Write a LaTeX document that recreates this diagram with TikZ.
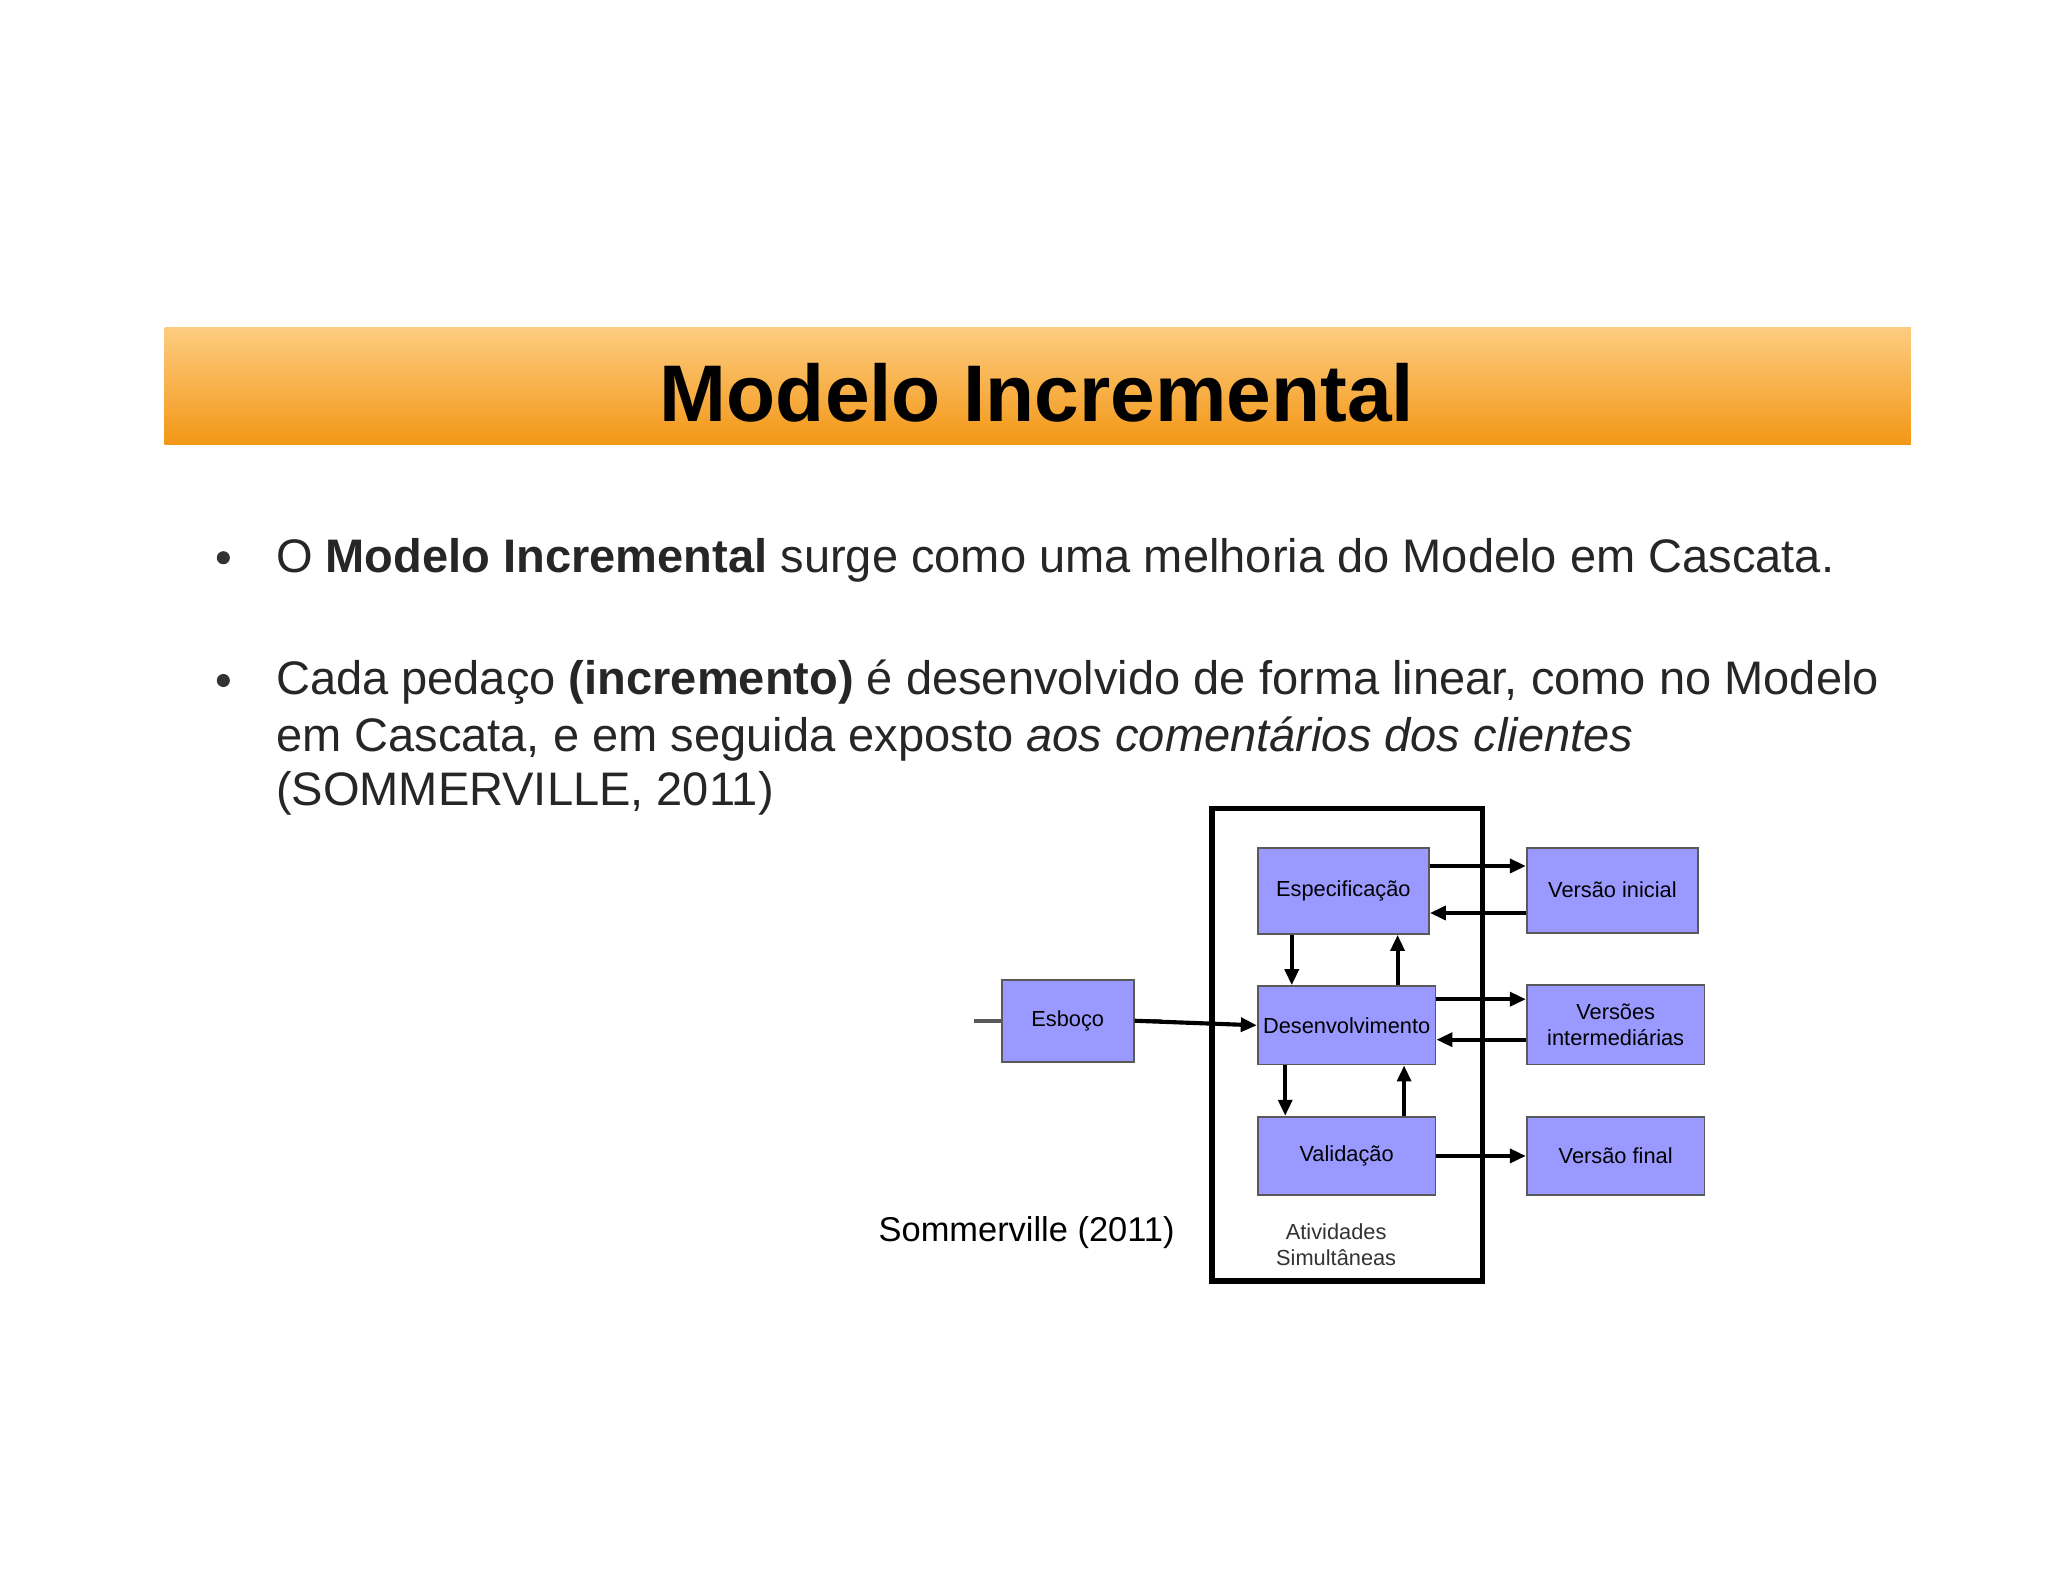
\documentclass[tikz,border=0pt]{standalone}
\usepackage{fontspec}
\setmainfont{Liberation Sans}
\usetikzlibrary{arrows.meta}
\begin{document}
\begin{tikzpicture}[x=0.02cm,y=-0.02cm,
  blk/.style={draw=gray!70!black,fill={rgb,255:red,153;green,153;blue,255},line width=0.8pt,inner sep=0pt,font=\fontsize{9.5}{11}\selectfont,align=center},
  arr/.style={-{Triangle[length=7pt,width=6pt]},line width=1.8pt},
  bul/.style={anchor=base west,inner sep=0pt,font=\fontsize{20.5}{24}\selectfont,text=black!85}]
\useasboundingbox (0,0) rectangle (1568,1211);
\fill[white] (0,0) rectangle (1568,1211);
\shade[top color={rgb,255:red,253;green,204;blue,128},bottom color={rgb,255:red,243;green,151;blue,22}] (126,251) rectangle (1463,340);
\node[font=\fontsize{35}{40}\selectfont\bfseries] (title) at (794,301) {Modelo Incremental};
\fill[black!80] (171,427) circle (5);
\fill[black!80] (171,521) circle (5);
\node[bul] (b1) at (211,438) {O \textbf{Modelo Incremental} surge como uma melhoria do Modelo em Cascata.};
\node[bul] (b2) at (211,532) {Cada pedaço \textbf{(incremento)} é desenvolvido de forma linear, como no Modelo};
\node[bul] (b3) at (211,575) {em Cascata, e em seguida exposto \textit{aos comentários dos clientes}};
\node[bul] (b4) at (211,617) {(SOMMERVILLE, 2011)};
\draw[line width=2.5pt] (928,619) rectangle (1135,981);
\node[blk,minimum width=101\pgflinewidth] (esb) at (817.5,781.5) {};
\path (767,750) coordinate (e1) (868,813) coordinate (e2);
\node[blk,fit/.style={}] (esb) at (817.5,781.5) [minimum width=2.02cm,minimum height=1.26cm] {Esboço};
\node[blk,minimum width=2.62cm,minimum height=1.32cm] (esp) at (1028.5,682) {Especificação};
\node[blk,minimum width=2.72cm,minimum height=1.2cm] (des) at (1031,785) {Desenvolvimento};
\node[blk,minimum width=2.72cm,minimum height=1.2cm] (val) at (1031,885) {Validação};
\node[blk,minimum width=2.62cm,minimum height=1.3cm] (vi) at (1234.5,681.5) {Versão inicial};
\node[blk,minimum width=2.72cm,minimum height=1.22cm] (vm) at (1237,784.5) {Versões\\intermediárias};
\node[blk,minimum width=2.72cm,minimum height=1.2cm] (vf) at (1237,885) {Versão final};
\draw[arr] (esb.east) -- (des.west);
\draw[arr] (esp.east|-0,663) -- (vi.west|-0,663);
\draw[arr] (vi.west|-0,699) -- (esp.east|-0,699);
\draw[arr] (des.east|-0,765) -- (vm.west|-0,765);
\draw[arr] (vm.west|-0,796) -- (des.east|-0,796);
\draw[arr] (val.east) -- (vf.west);
\draw[arr] (esp.south-|989,0) -- (des.north-|989,0);
\draw[arr] (des.north-|1070,0) -- (esp.south-|1070,0);
\draw[arr] (des.south-|984,0) -- (val.north-|984,0);
\draw[arr] (val.north-|1075,0) -- (des.south-|1075,0);
\node[font=\fontsize{9.5}{11.5}\selectfont,align=center,text=black!80] (atv) at (1023,953) {Atividades\\Simultâneas};
\node[font=\fontsize{15}{18}\selectfont] (som) at (786,944) {Sommerville (2011)};
\end{tikzpicture}
\end{document}
